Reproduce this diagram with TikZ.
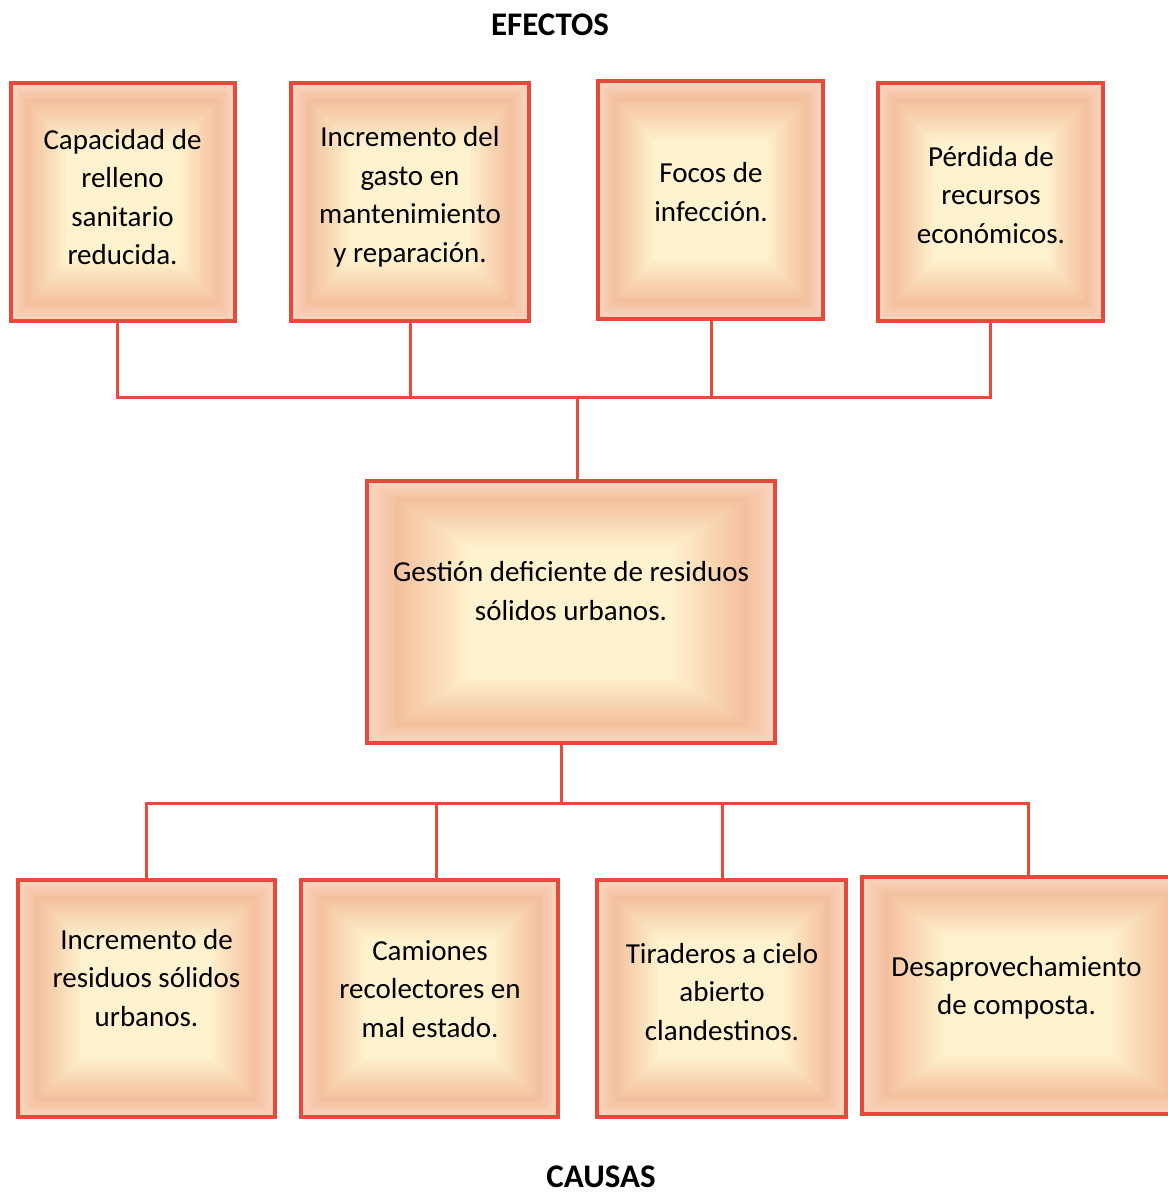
\documentclass[tikz,border=0pt]{standalone}
\usepackage{fontspec}
\setmainfont{Carlito}
\usetikzlibrary{calc,backgrounds}
\definecolor{lnred}{RGB}{230,74,58}
\definecolor{gedge}{RGB}{249,214,192}
\definecolor{gdark}{RGB}{244,192,158}
\definecolor{gcream}{RGB}{255,242,206}
\tikzset{
  box/.style={draw=lnred, line width=3.5pt, outer sep=0pt, inner sep=0pt, rectangle},
  conn/.style={draw=lnred, line width=3pt},
  txt/.style={align=center, font=\fontsize{29}{38.5}\selectfont, inner sep=0pt},
  ttl/.style={font=\fontsize{33}{40}\selectfont\bfseries, inner sep=0pt},
}
\newcommand\gradfill[1]{%
  \begin{pgfonlayer}{background}
  \clip (0,0) rectangle (1168,1195);
  \foreach \i in {0,...,40}{%
    \pgfmathsetmacro\s{\i/60}%
    \ifdim\s pt<0.14pt
      \pgfmathsetmacro\p{\s/0.14*100}%
      \colorlet{gc}{gdark!\p!gedge}%
    \else
      \pgfmathsetmacro\p{min(100,(\s-0.14)/0.36*100)}%
      \colorlet{gc}{gcream!\p!gdark}%
    \fi
    \fill[gc] ($(#1.north west)!\s!(#1.center)$) rectangle ($(#1.south east)!\s!(#1.center)$);
  }
  \end{pgfonlayer}}
\begin{document}
\begin{tikzpicture}[x=1pt,y=-1pt]
\useasboundingbox (0,0) rectangle (1168,1195);
\clip (0,0) rectangle (1168,1195);

% titles
\node[ttl] (efectos) at (550,25) {EFECTOS};
\node[ttl] (causas) at (601,1177) {CAUSAS};

% effect boxes
\node[box, minimum width=224pt, minimum height=238pt] (b1) at (123,202) {};
\node[box, minimum width=238pt, minimum height=238pt] (b2) at (410,202) {};
\node[box, minimum width=225pt, minimum height=238pt] (b3) at (710.5,200) {};
\node[box, minimum width=225pt, minimum height=238pt] (b4) at (990.5,202) {};
% central box
\node[box, minimum width=408pt, minimum height=262pt] (c) at (571,612) {};
% cause boxes
\node[box, minimum width=257pt, minimum height=237pt] (b5) at (146.5,998.5) {};
\node[box, minimum width=257pt, minimum height=237pt] (b6) at (429.5,998.5) {};
\node[box, minimum width=249pt, minimum height=237pt] (b7) at (721.5,998.5) {};
\node[box, minimum width=332pt, minimum height=237pt] (b8) at (1028,995.5) {};

\foreach \n in {b1,b2,b3,b4,c,b5,b6,b7,b8}{\gradfill{\n}}

% texts
\node[txt] (t1) at (122.5,197) {Capacidad de\\relleno\\sanitario\\reducida.};
\node[txt] (t2) at (410,197) {Incremento del\\gasto en\\mantenimiento\\y reparación.};
\node[txt] (t3) at (711,192) {Focos de\\infección.};
\node[txt] (t4) at (991,195) {Pérdida de\\recursos\\económicos.};
\node[txt] (tc) at (571,591) {Gestión deficiente de residuos\\sólidos urbanos.};
\node[txt] (t5) at (146.5,978) {Incremento de\\residuos sólidos\\urbanos.};
\node[txt] (t6) at (430,989) {Camiones\\recolectores en\\mal estado.};
\node[txt] (t7) at (722,992) {Tiraderos a cielo\\abierto\\clandestinos.};
\node[txt] (t8) at (1016.5,988) {Desaprovechamiento\\de composta.};

% connectors
\coordinate (jt) at (577,397);
\coordinate (jb) at (561,803);
\draw[conn] ([xshift=-6pt]b1.south) |- (jt);
\draw[conn] (b4.south) |- (jt);
\draw[conn] ([xshift=0.5pt]b2.south) -- ([xshift=0.5pt]b2.south |- jt);
\draw[conn] ([xshift=0.5pt]b3.south) -- ([xshift=0.5pt]b3.south |- jt);
\draw[conn] (jt) -- (jt |- c.north);
\draw[conn] (jb |- c.south) -- (jb);
\draw[conn] (b5.north) |- (jb);
\draw[conn] (b8.north) |- (jb);
\draw[conn] ([xshift=6.5pt]b6.north) -- ([xshift=6.5pt]b6.north |- jb);
\draw[conn] ([xshift=0.5pt]b7.north) -- ([xshift=0.5pt]b7.north |- jb);
\end{tikzpicture}
\end{document}
